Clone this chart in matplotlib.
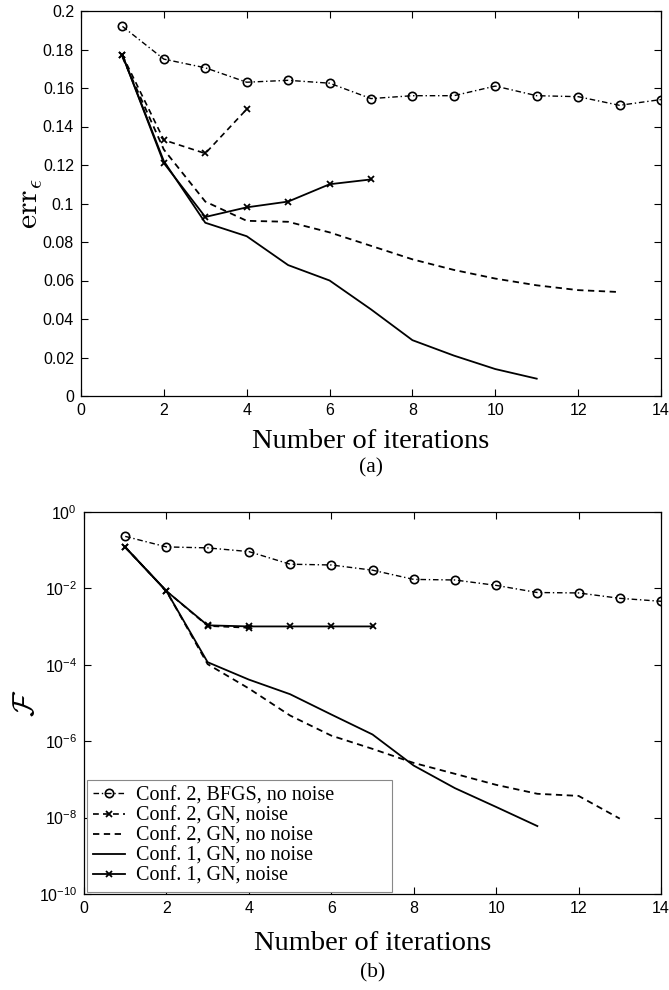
import matplotlib
matplotlib.use("Agg")
import matplotlib.pyplot as plt
import numpy as np

# ---- data ----
iters_bfgs = list(range(1, 15))
err_bfgs = [0.192, 0.175, 0.1705, 0.163, 0.164, 0.1625, 0.1545, 0.156, 0.156, 0.161, 0.156, 0.1555, 0.151, 0.154]
iters_c2_noise = [1, 2, 3, 4]
err_c2_noise = [0.177, 0.133, 0.126, 0.149]
iters_c2_clean = list(range(1, 14))
err_c2_clean = [0.176, 0.128, 0.101, 0.091, 0.0905, 0.085, 0.078, 0.071, 0.0655, 0.061, 0.0575, 0.055, 0.054]
iters_c1_clean = list(range(1, 12))
err_c1_clean = [0.177, 0.122, 0.090, 0.083, 0.068, 0.060, 0.045, 0.029, 0.021, 0.014, 0.009]
iters_c1_noise = list(range(1, 8))
err_c1_noise = [0.177, 0.121, 0.093, 0.098, 0.101, 0.110, 0.1125]

F_bfgs = [0.23, 0.122, 0.115, 0.092, 0.043, 0.041, 0.030, 0.0172, 0.0166, 0.012, 0.0078, 0.0076, 0.0055, 0.0046]
F_c2_noise = [0.12, 0.0085, 0.00104, 0.00093]
F_c2_clean = [0.12, 0.0085, 1.04e-4, 2.4e-5, 4.7e-6, 1.4e-6, 6.3e-7, 2.7e-7, 1.4e-7, 7.2e-8, 4.2e-8, 3.7e-8, 9.4e-9]
F_c1_clean = [0.12, 0.0085, 1.17e-4, 4.1e-5, 1.7e-5, 5e-6, 1.5e-6, 2.3e-7, 5.9e-8, 1.9e-8, 6e-9]
F_c1_noise = [0.12, 0.0085, 0.00108, 0.00101, 0.00101, 0.00101, 0.00101]

labels = ["Conf. 2, BFGS, no noise", "Conf. 2, GN, noise", "Conf. 2, GN, no noise",
          "Conf. 1, GN, no noise", "Conf. 1, GN, noise"]
xticks = [0, 2, 4, 6, 8, 10, 12, 14]

serif = ["Liberation Serif", "DejaVu Serif"]
sans = ["Liberation Sans", "DejaVu Sans"]
plt.rcParams['font.family'] = sans
plt.rcParams['mathtext.fontset'] = 'cm'

fig = plt.figure(figsize=(6.69, 9.90), dpi=100)
W, H = 669.0, 990.0
L1, R1, T1, B1 = 81, 661, 11, 396
L2, R2, T2, B2 = 84, 661, 512, 894
ax1 = fig.add_axes([L1 / W, 1 - B1 / H, (R1 - L1) / W, (B1 - T1) / H])
ax2 = fig.add_axes([L2 / W, 1 - B2 / H, (R2 - L2) / W, (B2 - T2) / H])

def style(ax, xlpad):
    ax.tick_params(direction='in', top=True, right=True, labelsize=11.5, length=5, width=0.8, pad=5)
    for s in ax.spines.values():
        s.set_linewidth(0.9)
    ax.set_xlim(0, 14)
    ax.set_xticks(xticks)
    ax.set_xlabel("Number of iterations", fontsize=20.5, family=serif, labelpad=xlpad)

def series(ax, ys):
    ax.plot(iters_bfgs, ys[0], color='black', linestyle='-.', lw=1.0, marker='o', ms=6,
            mfc='none', mew=1.2, label=labels[0], dashes=(4, 2, 1, 2))
    ax.plot(iters_c2_noise, ys[1], color='black', linestyle='--', lw=1.2, marker='x', ms=4,
            mew=1.3, label=labels[1], dashes=(3.5, 2.5))
    ax.plot(iters_c2_clean, ys[2], color='black', linestyle='--', lw=1.3, label=labels[2], dashes=(3.5, 2.5))
    ax.plot(iters_c1_clean, ys[3], color='black', linestyle='-', lw=1.3, label=labels[3])
    ax.plot(iters_c1_noise, ys[4], color='black', linestyle='-', lw=1.3, marker='x', ms=4,
            mew=1.3, label=labels[4])

# top panel
series(ax1, [err_bfgs, err_c2_noise, err_c2_clean, err_c1_clean, err_c1_noise])
style(ax1, 8)
ax1.set_ylim(0, 0.2)
ax1.set_yticks([0, 0.02, 0.04, 0.06, 0.08, 0.1, 0.12, 0.14, 0.16, 0.18, 0.2])
ax1.set_yticklabels(["0", "0.02", "0.04", "0.06", "0.08", "0.1", "0.12", "0.14", "0.16", "0.18", "0.2"])
ax1.set_ylabel(r"$\mathrm{err}_\epsilon$", fontsize=23)
ax1.yaxis.set_label_coords((45 - L1) / (R1 - L1), 0.5)
fig.text((L1 + R1) / 2 / W, 1 - 468 / H, "(a)", ha='center', va='center', fontsize=15.5, family=serif)

# bottom panel
series(ax2, [F_bfgs, F_c2_noise, F_c2_clean, F_c1_clean, F_c1_noise])
ax2.set_yscale('log')
style(ax2, 11)
ax2.set_ylim(1e-10, 1)
ax2.set_yticks([1e-10, 1e-8, 1e-6, 1e-4, 1e-2, 1])
ax2.minorticks_off()
ax2.set_ylabel(r"$\mathcal{F}$", fontsize=22)
ax2.yaxis.set_label_coords((41 - L2) / (R2 - L2), 0.5)
leg = ax2.legend(loc='lower left', prop={'family': serif, 'size': 14.5},
                 bbox_to_anchor=(87 / W, 1 - 892 / H, 305 / W, 110 / H),
                 bbox_transform=fig.transFigure, mode='expand',
                 fancybox=False, edgecolor='#888888', framealpha=1,
                 borderaxespad=0, handlelength=1.6, labelspacing=0.05, borderpad=0.3,
                 handletextpad=0.55)
leg.get_frame().set_linewidth(0.8)
fig.text((L2 + R2) / 2 / W, 1 - 973 / H, "(b)", ha='center', va='center', fontsize=15.5, family=serif)

fig.savefig("out.png", dpi=100)
